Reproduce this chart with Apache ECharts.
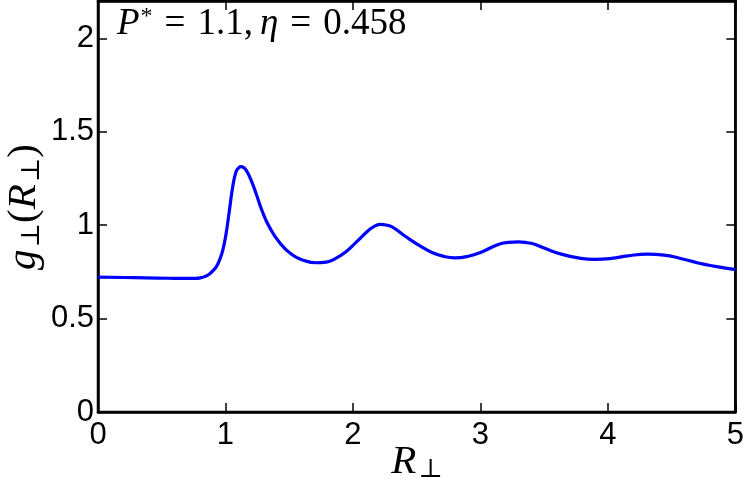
<!DOCTYPE html>
<html><head><meta charset="utf-8">
<script src="https://cdn.jsdelivr.net/npm/echarts@6/dist/echarts.min.js"></script>
<style>html,body{margin:0;padding:0;background:#fff}#c{width:747px;height:487px}</style>
</head><body><div id="c"></div>
<script>
var xVals = [0,0.2,0.375,0.55,0.68,0.766,0.81,0.844,0.875,0.90,0.93,0.953,0.979,1.005,1.031,1.057,1.083,1.105,1.122,1.14,1.162,1.20,1.24,1.29,1.344,1.42,1.526,1.63,1.71,1.79,1.865,1.943,2.02,2.125,2.17,2.216,2.26,2.307,2.41,2.516,2.62,2.724,2.80,2.906,3.01,3.14,3.22,3.297,3.37,3.43,3.505,3.635,3.766,3.896,4.026,4.156,4.31,4.44,4.57,4.70,4.83,4.977,5.0];
var yVals = [0.722,0.72,0.718,0.716,0.715,0.715,0.719,0.727,0.739,0.755,0.78,0.813,0.867,0.956,1.08,1.206,1.286,1.308,1.313,1.309,1.295,1.242,1.170,1.072,0.991,0.911,0.840,0.808,0.799,0.802,0.822,0.857,0.905,0.974,0.995,1.004,1.001,0.991,0.941,0.893,0.854,0.831,0.825,0.834,0.857,0.897,0.908,0.911,0.906,0.897,0.876,0.845,0.825,0.817,0.822,0.836,0.845,0.840,0.822,0.799,0.781,0.765,0.763];
var xTicks = [0,1,2,3,4,5];
var yTicks = [0,0.5,1,1.5,2];

var data = xVals.map(function(x,i){return [x,yVals[i]];});
var chart = echarts.init(document.getElementById('c'));
var lab = {color:'#000',fontFamily:'Liberation Sans',fontSize:31};
function tk(){return {show:true,inside:true,length:9,lineStyle:{color:'#000',width:1.5}};}
function ln(){return {show:true,onZero:false,lineStyle:{color:'#000',width:2.5}};}
chart.setOption({
  animation:false,
  grid:{left:98,right:9,top:1,bottom:75,show:true,borderColor:'#000',borderWidth:2.5},
  xAxis:[{type:'value',min:0,max:5,interval:1,
    axisLine:ln(),axisTick:tk(),
    axisLabel:Object.assign({margin:8,formatter:function(v){return xTicks.indexOf(v)>=0?String(v):'';}},lab),
    splitLine:{show:false}},
   {type:'value',position:'top',min:0,max:5,interval:1,
    axisLine:ln(),axisTick:tk(),axisLabel:{show:false},splitLine:{show:false}}],
  yAxis:[{type:'value',min:0,max:2.2,interval:0.5,
    axisLine:ln(),axisTick:tk(),
    axisLabel:Object.assign({margin:4,showMaxLabel:false,formatter:function(v){return yTicks.indexOf(v)>=0?String(v):'';}},lab),
    splitLine:{show:false}},
   {type:'value',position:'right',min:0,max:2.2,interval:0.5,
    axisLine:ln(),axisTick:tk(),axisLabel:{show:false},splitLine:{show:false}}],
  series:[{type:'line',data:data,smooth:0.5,showSymbol:false,
    lineStyle:{color:'#0000ff',width:3.2}}],
  graphic:[
    {type:'text',x:117,y:43,style:{
      text:'{i|P}{s|*}{e|=}{n|1.1,}{i|η}{e|=}{n|0.458}',
      verticalAlign:'bottom',
      rich:{i:{fontFamily:'Liberation Serif',fontStyle:'italic',fontSize:37,fill:'#000'},
            s:{fontFamily:'Liberation Serif',fontSize:24,fill:'#000',padding:[0,0,14,1]},
            e:{fontFamily:'Liberation Serif',fontSize:37,fill:'#000',padding:[0,12,0,12]},
            n:{fontFamily:'Liberation Serif',fontSize:37,fill:'#000',padding:[0,7,0,0]}}}},
    {type:'text',x:417,y:462,style:{
      text:'{i|R}{b|⊥}',align:'center',verticalAlign:'middle',
      rich:{i:{fontFamily:'Liberation Serif',fontStyle:'italic',fontSize:41,fill:'#000'},
            b:{fontFamily:'DejaVu Serif',fontSize:26,fill:'#000',padding:[16,0,0,2]}}}},
    {type:'group',x:24,y:207,rotation:Math.PI/2,children:[
      {type:'text',style:{
      text:'{i|g}{b|⊥}{n|(}{i|R}{b|⊥}{n|)}',align:'center',verticalAlign:'middle',
      rich:{i:{fontFamily:'Liberation Serif',fontStyle:'italic',fontSize:41,fill:'#000'},
            n:{fontFamily:'Liberation Serif',fontSize:41,fill:'#000'},
            b:{fontFamily:'DejaVu Serif',fontSize:26,fill:'#000',padding:[16,0,0,2]}}}}]}
  ]
});
</script></body></html>
